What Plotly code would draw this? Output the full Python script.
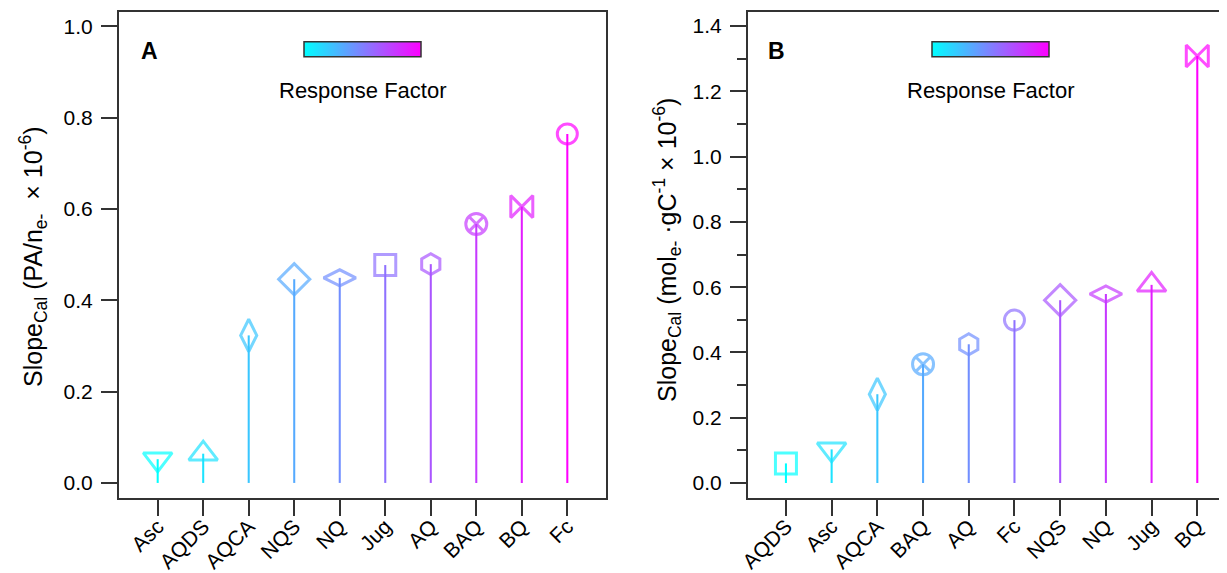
import plotly.graph_objects as go

# ---------------- data ----------------
A_NAMES = ["Asc", "AQDS", "AQCA", "NQS", "NQ", "Jug", "AQ", "BAQ", "BQ", "Fc"]
A_VALUES = [0.052, 0.064, 0.323, 0.446, 0.449, 0.477, 0.479, 0.567, 0.605, 0.764]
A_SYMBOLS = ["triangle-down", "triangle-up", "diamond-tall", "diamond", "diamond-wide",
             "square", "hexagon", "circle-x", "bowtie", "circle"]

B_NAMES = ["AQDS", "Asc", "AQCA", "BAQ", "AQ", "Fc", "NQS", "NQ", "Jug", "BQ"]
B_VALUES = [0.060, 0.103, 0.272, 0.364, 0.425, 0.499, 0.560, 0.579, 0.607, 1.308]
B_SYMBOLS = ["square", "triangle-down", "diamond-tall", "circle-x", "hexagon",
             "circle", "diamond", "diamond-wide", "triangle-up", "bowtie"]

A_YTITLE = "Slope<sub>Cal</sub> (PA/n<sub>e-</sub>  × 10<sup>-6</sup>)"
B_YTITLE = "Slope<sub>Cal</sub> (mol<sub>e-</sub> ·gC<sup>-1</sup> × 10<sup>-6</sup>)"
CB_LABEL = "Response Factor"

# ---------------- style ----------------
OFF = 8  # default page (body) margin in the browser
W, H = 1227 - OFF, 573 - OFF
FONT = "Liberation Sans, Arial, sans-serif"
AXC = "#333333"
COOL = [[0.0, "#00FFFF"], [1.0, "#FF00FF"]]
SIZES = {"circle": 20, "square": 21, "hexagon": 21, "circle-x": 21, "bowtie": 22,
         "diamond": 24, "diamond-wide": 23, "diamond-tall": 23,
         "triangle-up": 25, "triangle-down": 25}


def fx(p):
    return (p - OFF) / W


def fy(p):
    return 1 - (p - OFF) / H


fig = go.Figure()


def add_panel(names, values, symbols, xa, ya, cb_x):
    rank = list(range(len(names)))
    cmax = len(names) - 1
    fig.add_trace(go.Bar(
        x=names, y=values, width=0.045,
        marker=dict(color=rank, colorscale=COOL, cmin=0, cmax=cmax, line=dict(width=0)),
        xaxis=xa, yaxis=ya, hoverinfo="skip", showlegend=False))
    fig.add_trace(go.Scatter(
        x=names, y=values, mode="markers",
        marker=dict(symbol=[s + "-open" for s in symbols],
                    size=[SIZES[s] for s in symbols],
                    color=rank, colorscale=COOL, cmin=0, cmax=cmax,
                    line=dict(width=3),
                    showscale=True,
                    colorbar=dict(orientation="h", x=cb_x, xanchor="center",
                                  y=fy(49.5), yanchor="middle",
                                  len=117, lenmode="pixels",
                                  thickness=15, thicknessmode="pixels",
                                  outlinewidth=1.5, outlinecolor=AXC,
                                  ticks="", showticklabels=False,
                                  xpad=0, ypad=0, borderwidth=0)),
        xaxis=xa, yaxis=ya, showlegend=False))


add_panel(A_NAMES, A_VALUES, A_SYMBOLS, "x", "y", fx(362.5))
add_panel(B_NAMES, B_VALUES, B_SYMBOLS, "x2", "y2", fx(990.7))

ydom = [fy(498), fy(12)]
common_x = dict(type="category", tickangle=-45, ticks="outside", ticklen=16, tickwidth=1.5,
                tickcolor=AXC, showline=True, linecolor=AXC, linewidth=2, mirror=True,
                showgrid=False, zeroline=False, automargin=False,
                ticklabelstandoff=-10,
                tickfont=dict(family=FONT, size=21, color="black"))
common_y = dict(ticks="outside", ticklen=16, tickwidth=1.5, tickcolor=AXC,
                showline=True, linecolor=AXC, linewidth=2, automargin=False,
                showgrid=False, zeroline=False, dtick=0.2, tick0=0, tickformat=".1f",
                ticklabelstandoff=4,
                tickfont=dict(family=FONT, size=21, color="black"), domain=ydom)

fig.update_layout(
    width=W, height=H,
    margin=dict(l=0, r=0, t=0, b=0, pad=0, autoexpand=False),
    paper_bgcolor="white", plot_bgcolor="white",
    showlegend=False,
    font=dict(family=FONT, color="black"),
    xaxis=dict(common_x, domain=[fx(119), fx(606)], range=[-0.85, 9.85], anchor="y"),
    yaxis=dict(common_y, range=[-0.033, 1.031], mirror=True, anchor="x"),
    xaxis2=dict(common_x, domain=[fx(748), 1.0], range=[-0.83, 9.65], anchor="y2"),
    yaxis2=dict(common_y, range=[-0.046, 1.443], mirror=False, anchor="x2",
                minor=dict(dtick=0.1, ticks="outside", ticklen=9, tickwidth=1.5, tickcolor=AXC)),
)

annos = [
    dict(text=A_YTITLE, x=fx(33), y=fy(257), textangle=-90, size=25),
    dict(text=B_YTITLE, x=fx(667), y=fy(250), textangle=-90, size=25),
    dict(text=CB_LABEL, x=fx(362.5), y=fy(90), size=22),
    dict(text=CB_LABEL, x=fx(990.7), y=fy(90), size=22),
    dict(text="<b>A</b>", x=fx(149), y=fy(50.5), size=23),
    dict(text="<b>B</b>", x=fx(776.5), y=fy(50.5), size=23),
]
for a in annos:
    fig.add_annotation(xref="paper", yref="paper", xanchor="center", yanchor="middle",
                       showarrow=False, font=dict(family=FONT, color="black", size=a["size"]),
                       text=a["text"], x=a["x"], y=a["y"], textangle=a.get("textangle", 0))

fig.write_html("out.html")
